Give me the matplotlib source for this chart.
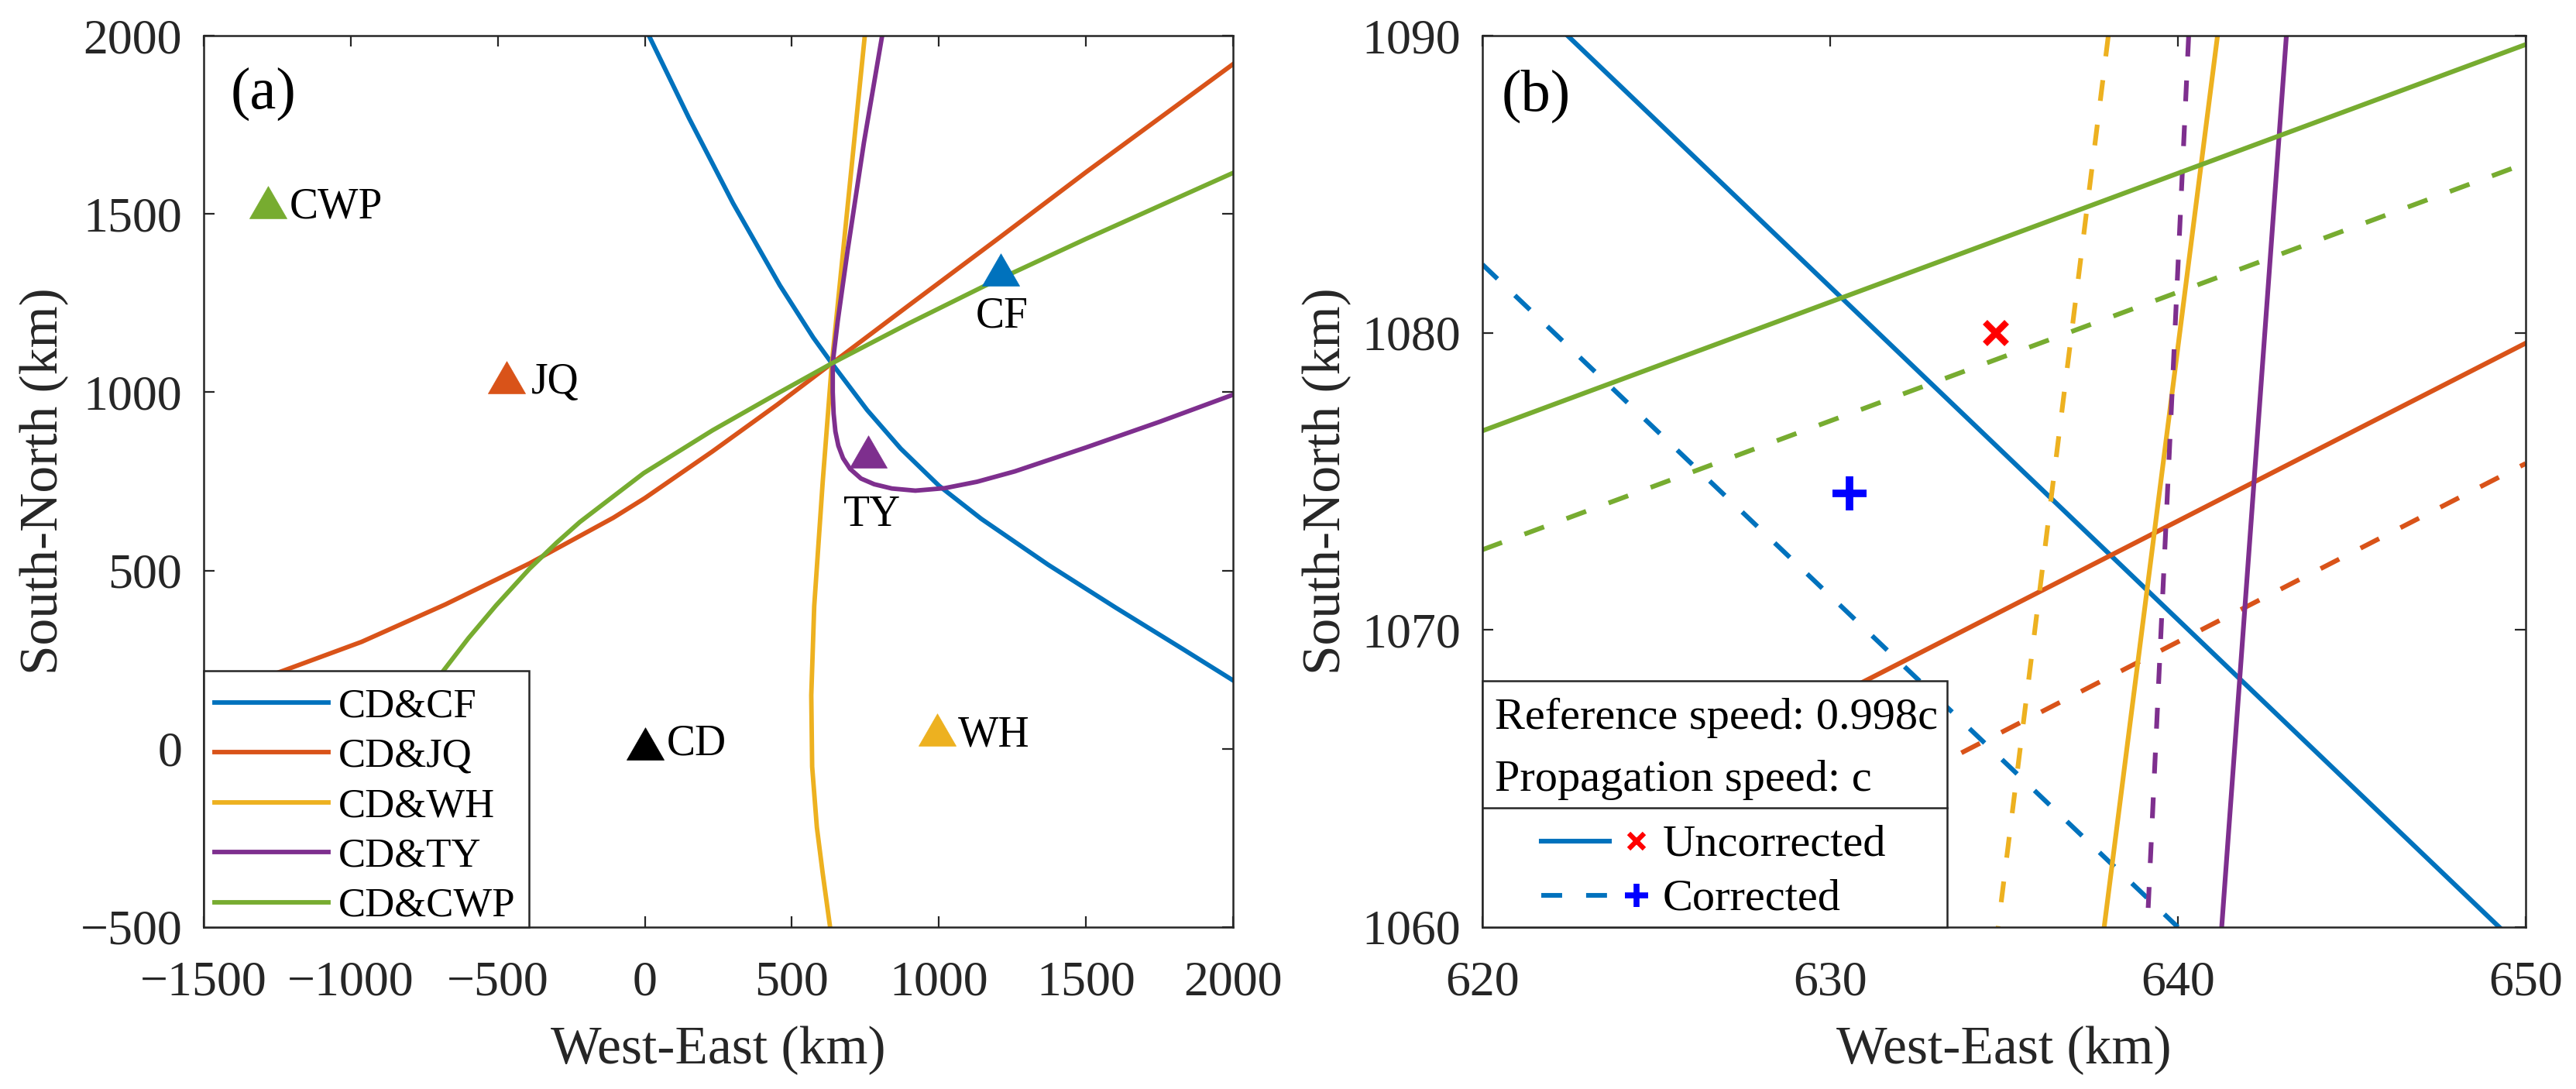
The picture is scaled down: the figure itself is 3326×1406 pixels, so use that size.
import matplotlib
matplotlib.use("Agg")
import matplotlib.pyplot as plt
from matplotlib.path import Path
from matplotlib.patches import Rectangle
from matplotlib.lines import Line2D

plt.rcParams['font.family'] = ['Liberation Serif', 'DejaVu Serif']
plt.rcParams['lines.scale_dashes'] = False
plt.rcParams['axes.unicode_minus'] = True

# MATLAB default colour order
C_BLUE, C_ORANGE, C_YELLOW, C_PURPLE, C_GREEN = '#0072BD', '#D95319', '#EDB120', '#7E2F8E', '#77AC30'
AX_COLOR = '#262626'

# ---------------- data: panel (a) ----------------
station_names = ['CD', 'CF', 'JQ', 'WH', 'TY', 'CWP']
station_x = [0, 1211, -469, 995, 760, -1281]
station_y = [0, 1328, 1026, 38, 819, 1517]
station_colors = ['black', C_BLUE, C_ORANGE, C_YELLOW, C_PURPLE, C_GREEN]

pair_labels = ['CD&CF', 'CD&JQ', 'CD&WH', 'CD&TY', 'CD&CWP']
pair_colors = [C_BLUE, C_ORANGE, C_YELLOW, C_PURPLE, C_GREEN]

cf_x = [14, 150, 300, 459, 573, 636, 756, 870, 1000, 1144, 1372, 1601, 1829, 2000]
cf_y = [2000, 1769, 1530, 1300, 1153, 1081, 950, 842, 738, 645, 516, 396, 280, 192]

jq_x = [-1300, -1226, -963, -678, -392, -107, 0, 230, 450, 636, 900, 1200, 1500, 2000]
jq_y = [198, 220, 300, 405, 520, 648, 703, 834, 965, 1081, 1245, 1430, 1617, 1920]

wh_x = [748, 687, 636, 605, 576, 566, 569, 585, 605, 630]
wh_y = [2000, 1500, 1081, 750, 400, 150, -50, -220, -350, -500]

ty_x = [807, 745, 690, 656, 639, 639, 642, 648, 658, 674, 698, 735, 780, 840, 920, 1020,
        1130, 1258, 1500, 1750, 2000]
ty_y = [2000, 1700, 1400, 1200, 1083, 1000, 940, 890, 850, 815, 785, 758, 742, 730, 724, 731,
        749, 778, 845, 917, 993]

cwp_x = [-740, -683, -600, -506, -392, -300, -221, -4, 230, 450, 636, 900, 1155, 1500, 2000]
cwp_y = [158, 221, 310, 402, 505, 578, 636, 773, 893, 996, 1081, 1194, 1298, 1430, 1615]

# ---------------- data: panel (b) ----------------
# uncorrected (solid) and corrected (dashed) curves near the source, order CF, JQ, WH, TY, CWP
unc_cf_x, unc_cf_y = [622.45, 649.24], [1090.0, 1060.0]
unc_jq_x, unc_jq_y = [620.0, 650.0], [1061.7, 1079.65]
unc_wh_x, unc_wh_y = [641.14, 637.88], [1090.0, 1060.0]
unc_ty_x, unc_ty_y = [643.12, 641.26], [1090.0, 1060.0]
unc_cwp_x, unc_cwp_y = [620.0, 650.0], [1076.7, 1089.7]

cor_cf_x, cor_cf_y = [620.0, 640.0], [1082.3, 1060.0]
cor_jq_x, cor_jq_y = [620.0, 650.0], [1057.6, 1075.6]
cor_wh_x, cor_wh_y = [638.0, 634.83], [1090.0, 1060.0]
cor_ty_x, cor_ty_y = [640.31, 639.12], [1090.0, 1060.0]
cor_cwp_x, cor_cwp_y = [620.0, 650.0], [1072.7, 1085.7]

unc_source_x, unc_source_y = [634.76], [1080.0]
cor_source_x, cor_source_y = [630.55], [1074.6]

ref_speed_text = 'Reference speed: 0.998c'
prop_speed_text = 'Propagation speed: c'

# ---------------- figure ----------------
fig = plt.figure(figsize=(33.26, 14.06), dpi=100)
axA = fig.add_axes([0.07907, 0.14865, 0.39958, 0.81863])
axB = fig.add_axes([0.57546, 0.14865, 0.40499, 0.81863])

TICK_FS, LABEL_FS = 46, 50


def style(ax):
    ax.tick_params(axis='both', which='both', direction='in', length=10, width=1.6,
                   top=True, right=True, labelsize=TICK_FS, colors=AX_COLOR)
    ax.tick_params(axis='x', pad=31)
    ax.tick_params(axis='y', pad=20)
    for s in ax.spines.values():
        s.set_linewidth(1.8)
        s.set_color(AX_COLOR)


# triangle marker centred on its centroid (MATLAB style)
tri = Path([(0, 1), (-0.866, -0.5), (0.866, -0.5), (0, 1)],
           [Path.MOVETO, Path.LINETO, Path.LINETO, Path.CLOSEPOLY])

# ---- panel (a) ----
LW_A = 4.2
curves = [(cf_x, cf_y), (jq_x, jq_y), (wh_x, wh_y), (ty_x, ty_y), (cwp_x, cwp_y)]
handles = []
for (cx, cy), col, lab in zip(curves, pair_colors, pair_labels):
    h, = axA.plot(cx, cy, color=col, lw=LW_A, label=lab, solid_joinstyle='round')
    handles.append(h)

for sx, sy, col in zip(station_x, station_y, station_colors):
    axA.plot([sx], [sy], linestyle='none', marker=tri, ms=40, color=col,
             mec=col, mew=0.5, zorder=4)

label_offsets = {
    'CD': (20.2, -5.6, 'left'), 'CF': (1.3, -48, 'center'), 'JQ': (22.6, -9.8, 'left'),
    'WH': (18.8, -10, 'left'), 'TY': (3.5, -64, 'center'), 'CWP': (19.8, -9.6, 'left'),
}
for name, sx, sy in zip(station_names, station_x, station_y):
    dx, dy, ha = label_offsets[name]
    axA.annotate(name, xy=(sx, sy), xytext=(dx, dy), textcoords='offset points',
                 ha=ha, va='baseline', fontsize=40, color='black', zorder=4)

axA.set_xlim(-1500, 2000)
axA.set_ylim(-500, 2000)
axA.set_xticks(list(range(-1500, 2001, 500)))
axA.set_yticks(list(range(-500, 2001, 500)))
style(axA)
axA.set_xlabel('West-East (km)', fontsize=LABEL_FS, color=AX_COLOR)
axA.set_ylabel('South-North (km)', fontsize=LABEL_FS, color=AX_COLOR)
axA.xaxis.set_label_coords(0.5, -0.111)
axA.yaxis.set_label_coords(-0.131, 0.5)
axA.text(0.026, 0.9642, '(a)', transform=axA.transAxes, fontsize=55,
         ha='left', va='top', color='black')

# legend (a): white box + frameless legend
axA.add_patch(Rectangle((0, 0), 0.3158, 0.2876, transform=axA.transAxes,
                        facecolor='white', edgecolor=AX_COLOR, lw=1.8,
                        zorder=5.5, clip_on=False))
legA = axA.legend(handles, pair_labels, loc='upper left', bbox_to_anchor=(0.01046, 0.268),
                  borderaxespad=0, borderpad=0, frameon=False, fontsize=38,
                  handlelength=2.78, handletextpad=0.25, labelspacing=0.31)
legA.set_zorder(6)

# ---- panel (b) ----
LW_B = 4.4
DASH = (0, (19.4, 22.3))
unc_lines = [(unc_cf_x, unc_cf_y), (unc_jq_x, unc_jq_y), (unc_wh_x, unc_wh_y),
             (unc_ty_x, unc_ty_y), (unc_cwp_x, unc_cwp_y)]
cor_lines = [(cor_cf_x, cor_cf_y), (cor_jq_x, cor_jq_y), (cor_wh_x, cor_wh_y),
             (cor_ty_x, cor_ty_y), (cor_cwp_x, cor_cwp_y)]
for (ux, uy), (kx, ky), col in zip(unc_lines, cor_lines, pair_colors):
    axB.plot(ux, uy, color=col, lw=LW_B)
    axB.plot(kx, ky, color=col, lw=LW_B, linestyle=DASH)

axB.plot(unc_source_x, unc_source_y, linestyle='none', marker='x', ms=20, mew=6,
         color='#FF0000', zorder=4)
axB.plot(cor_source_x, cor_source_y, linestyle='none', marker='+', ms=32, mew=7,
         color='#0000FF', zorder=4)

axB.set_xlim(620, 650)
axB.set_ylim(1060, 1090)
axB.set_xticks([620, 630, 640, 650])
axB.set_yticks([1060, 1070, 1080, 1090])
style(axB)
axB.set_xlabel('West-East (km)', fontsize=LABEL_FS, color=AX_COLOR)
axB.set_ylabel('South-North (km)', fontsize=LABEL_FS, color=AX_COLOR)
axB.xaxis.set_label_coords(0.5, -0.111)
axB.yaxis.set_label_coords(-0.1255, 0.5)
axB.text(0.0183, 0.9624, '(b)', transform=axB.transAxes, fontsize=55,
         ha='left', va='top', color='black')

# legend (b): title block + two entries, drawn in axes coordinates
T = axB.transAxes
axB.add_patch(Rectangle((0, 0), 0.4454, 0.2763, transform=T, facecolor='white',
                        edgecolor=AX_COLOR, lw=1.8, zorder=5.5, clip_on=False))
axB.add_line(Line2D([0, 0.4454], [0.1338, 0.1338], transform=T, color=AX_COLOR,
                    lw=1.8, zorder=6))
LEG_FS = 42
axB.text(0.0119, 0.2221, ref_speed_text, transform=T, fontsize=LEG_FS,
         ha='left', va='baseline', zorder=7)
axB.text(0.0119, 0.1526, prop_speed_text, transform=T, fontsize=LEG_FS,
         ha='left', va='baseline', zorder=7)
axB.add_line(Line2D([0.0564, 0.1215], [0.0964, 0.0964], transform=T, color=C_BLUE,
                    lw=LW_B, zorder=7))
axB.add_line(Line2D([0.0564, 0.1215], [0.0356, 0.0356], transform=T, color=C_BLUE,
                    lw=LW_B, linestyle=DASH, zorder=7))
axB.add_line(Line2D([0.1477], [0.0964], transform=T, linestyle='none', marker='x',
                    ms=14, mew=4.5, color='#FF0000', zorder=7))
axB.add_line(Line2D([0.1477], [0.0356], transform=T, linestyle='none', marker='+',
                    ms=22, mew=5.5, color='#0000FF', zorder=7))
axB.text(0.173, 0.0805, 'Uncorrected', transform=T, fontsize=LEG_FS,
         ha='left', va='baseline', zorder=7)
axB.text(0.173, 0.0196, 'Corrected', transform=T, fontsize=LEG_FS,
         ha='left', va='baseline', zorder=7)

fig.savefig('out.png', dpi=100, facecolor='white')
